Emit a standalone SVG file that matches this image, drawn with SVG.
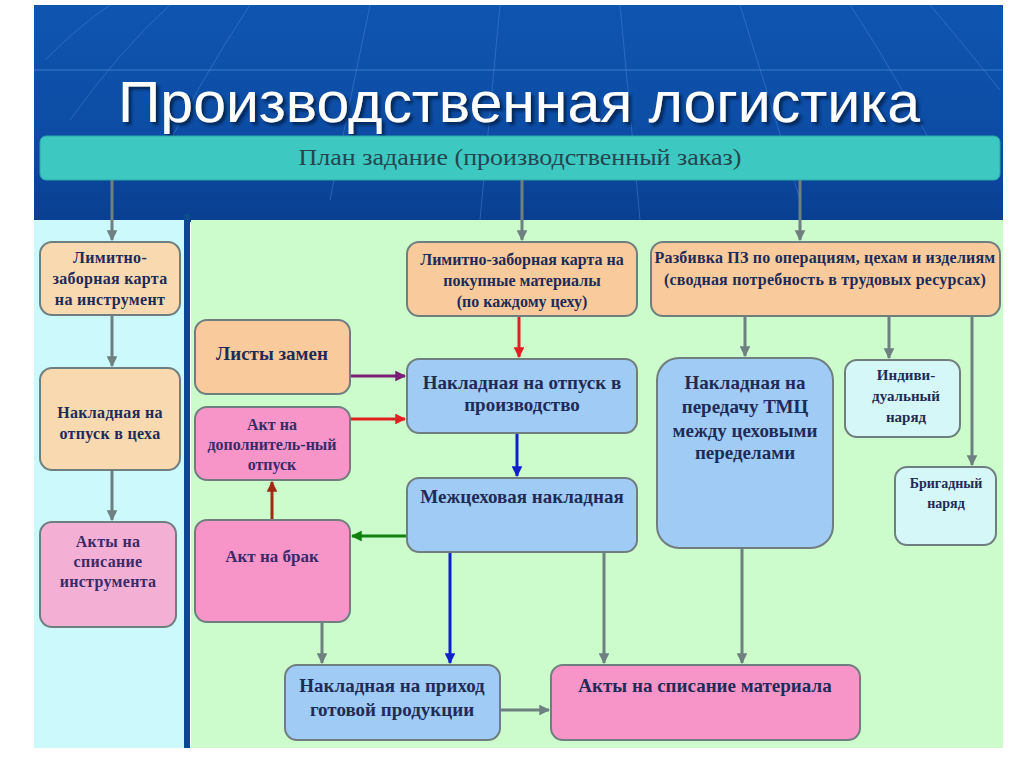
<svg xmlns="http://www.w3.org/2000/svg" width="1024" height="767" viewBox="0 0 1024 767">
<defs>
<linearGradient id="hdr" x1="0" y1="0" x2="0" y2="1">
<stop offset="0" stop-color="#0f55b0"/>
<stop offset="0.6" stop-color="#0c4ca4"/>
<stop offset="1" stop-color="#093f90"/>
</linearGradient>
<filter id="shadow" x="-5%" y="-20%" width="110%" height="150%">
<feDropShadow dx="3" dy="3" stdDeviation="1.5" flood-color="#061c48" flood-opacity="0.85"/>
</filter>
<marker id="aG" viewBox="0 0 10 10" refX="9" refY="5" markerWidth="3.6" markerHeight="3.6" orient="auto"><path d="M0,0L10,5L0,10z" fill="#6f8080"/></marker>
<marker id="aR" viewBox="0 0 10 10" refX="9" refY="5" markerWidth="3.6" markerHeight="3.6" orient="auto"><path d="M0,0L10,5L0,10z" fill="#e02020"/></marker>
<marker id="aP" viewBox="0 0 10 10" refX="9" refY="5" markerWidth="3.6" markerHeight="3.6" orient="auto"><path d="M0,0L10,5L0,10z" fill="#7a1e7a"/></marker>
<marker id="aB" viewBox="0 0 10 10" refX="9" refY="5" markerWidth="3.6" markerHeight="3.6" orient="auto"><path d="M0,0L10,5L0,10z" fill="#1020c8"/></marker>
<marker id="aGr" viewBox="0 0 10 10" refX="9" refY="5" markerWidth="3.6" markerHeight="3.6" orient="auto"><path d="M0,0L10,5L0,10z" fill="#108010"/></marker>
<marker id="aDR" viewBox="0 0 10 10" refX="9" refY="5" markerWidth="3.6" markerHeight="3.6" orient="auto"><path d="M0,0L10,5L0,10z" fill="#a02a10"/></marker>
</defs>
<style>
.box{stroke:#6f7f7f;stroke-width:2}
.peach{fill:#f8d9b0}
.orange{fill:#f9cb9c}
.blue{fill:#9fcbf4}
.pink{fill:#f795c8}
.lpink{fill:#f4b0d4}
.cyan{fill:#d6f7f7}
.t{font-family:"Liberation Serif","DejaVu Serif",serif;font-weight:bold;fill:#1e2b58;text-anchor:middle}
.tp{fill:#3a2a68}
.c{fill:none;stroke-width:3}
.g{stroke:#6f8080;marker-end:url(#aG)}
</style>
<rect width="1024" height="767" fill="#ffffff"/>
<g id="background">
<rect x="34" y="5" width="969" height="217" fill="url(#hdr)"/>
<line x1="34" y1="70" x2="1003" y2="70" stroke="#3d7fd0" stroke-width="1.5" opacity="0.6"/>
<g stroke="#4a8ad8" stroke-width="1" fill="none" opacity="0.45">
<path d="M45,60 Q80,25 110,5"/>
<path d="M70,120 Q120,50 170,5"/>
<path d="M150,180 Q200,80 250,5"/>
<path d="M330,200 Q350,100 370,5"/>
<path d="M480,220 Q490,110 500,5"/>
<path d="M640,220 Q630,110 620,5"/>
<path d="M800,200 Q770,100 740,5"/>
<path d="M950,180 Q900,80 850,5"/>
<path d="M1000,90 Q960,40 930,5"/>
</g>
<rect x="34" y="220" width="152" height="528" fill="#ccf9fc"/>
<rect x="191" y="220" width="812" height="528" fill="#ccfccc"/>
<rect x="184" y="214" width="6" height="534" fill="#0a4a8e"/>
</g>
<g id="title">
<text x="519" y="122" font-family="Liberation Sans, Arial, sans-serif" font-size="58" fill="#ffffff" text-anchor="middle" textLength="802" lengthAdjust="spacingAndGlyphs" filter="url(#shadow)">Производственная логистика</text>
</g>
<g id="plan">
<rect x="40" y="136" width="960" height="44" rx="6" fill="#3ec8c2" stroke="#2aa8a8" stroke-width="1"/>
<text x="520" y="165" font-family="Liberation Serif, serif" font-size="23" fill="#244650" text-anchor="middle" textLength="443" lengthAdjust="spacingAndGlyphs">План задание (производственный заказ)</text>
</g>
<g id="connectors">
<path class="c g" d="M112,180V240"/>
<path class="c g" d="M522,180V240"/>
<path class="c g" d="M800,180V240"/>
<path class="c g" d="M112,315V366"/>
<path class="c g" d="M112,470V520"/>
<path class="c" stroke="#e02020" marker-end="url(#aR)" d="M519,316V357"/>
<path class="c" stroke="#7a1e7a" marker-end="url(#aP)" d="M350,376H405"/>
<path class="c" stroke="#e02020" marker-end="url(#aR)" d="M350,419H405"/>
<path class="c" stroke="#1020c8" marker-end="url(#aB)" d="M517,433V476"/>
<path class="c" stroke="#108010" marker-end="url(#aGr)" d="M407,536H352"/>
<path class="c" stroke="#a02a10" marker-end="url(#aDR)" d="M272,520V482"/>
<path class="c" stroke="#1020c8" marker-end="url(#aB)" d="M450,552V663"/>
<path class="c g" d="M322,622V663"/>
<path class="c g" d="M604,552V663"/>
<path class="c g" d="M742,548V663"/>
<path class="c g" d="M500,710H549"/>
<path class="c g" d="M745,316V356"/>
<path class="c g" d="M889,316V358"/>
<path class="c g" d="M972,316V465"/>
</g>
<g id="n1"><rect class="box peach" x="40" y="242" width="140" height="73" rx="12"/>
<text class="t" font-size="16" x="110" letter-spacing="0.3"><tspan x="110" y="263">Лимитно-</tspan><tspan x="110" y="284">заборная карта</tspan><tspan x="110" y="305">на инструмент</tspan></text></g>
<g id="n2"><rect class="box peach" x="40" y="368" width="140" height="102" rx="12"/>
<text class="t" font-size="16" x="110" letter-spacing="0.3"><tspan x="110" y="418">Накладная на</tspan><tspan x="110" y="439">отпуск в цеха</tspan></text></g>
<g id="n3"><rect class="box lpink" x="40" y="522" width="136" height="105" rx="12"/>
<text class="t tp" font-size="16" x="108" letter-spacing="0.3"><tspan x="108" y="547">Акты на</tspan><tspan x="108" y="567">списание</tspan><tspan x="108" y="587">инструмента</tspan></text></g>
<g id="n4"><rect class="box orange" x="407" y="242" width="230" height="74" rx="12"/>
<text class="t" font-size="16" x="522"><tspan x="522" y="265">Лимитно-заборная карта на</tspan><tspan x="522" y="286">покупные материалы</tspan><tspan x="522" y="307">(по каждому цеху)</tspan></text></g>
<g id="n5"><rect class="box orange" x="195" y="320" width="155" height="74" rx="12"/>
<text class="t" font-size="19" x="272" y="360">Листы замен</text></g>
<g id="n6"><rect class="box blue" x="407" y="359" width="230" height="74" rx="12"/>
<text class="t" font-size="19" x="522"><tspan x="522" y="389">Накладная на отпуск в</tspan><tspan x="522" y="411">производство</tspan></text></g>
<g id="n7"><rect class="box pink" x="195" y="407" width="155" height="73" rx="12"/>
<text class="t tp" font-size="16" x="272"><tspan x="272" y="430">Акт на</tspan><tspan x="272" y="450">дополнитель-ный</tspan><tspan x="272" y="470">отпуск</tspan></text></g>
<g id="n8"><rect class="box blue" x="407" y="478" width="230" height="74" rx="12"/>
<text class="t" font-size="19" x="522" y="503">Межцеховая накладная</text></g>
<g id="n9"><rect class="box pink" x="195" y="520" width="155" height="102" rx="12"/>
<text class="t tp" font-size="17" x="272" y="562">Акт на брак</text></g>
<g id="n10"><rect class="box blue" x="285" y="665" width="215" height="75" rx="12"/>
<text class="t" font-size="19" x="392"><tspan x="392" y="692">Накладная на приход</tspan><tspan x="392" y="716">готовой продукции</tspan></text></g>
<g id="n11"><rect class="box pink" x="551" y="665" width="309" height="75" rx="12"/>
<text class="t" font-size="19" x="705" y="692">Акты на списание материала</text></g>
<g id="n12"><rect class="box orange" x="651" y="242" width="349" height="74" rx="12"/>
<text class="t" font-size="16" x="825" letter-spacing="0.2"><tspan x="825" y="263">Разбивка ПЗ по операциям, цехам и изделиям</tspan><tspan x="825" y="285">(сводная потребность в трудовых ресурсах)</tspan></text></g>
<g id="n13"><rect class="box blue" x="657" y="358" width="176" height="190" rx="22"/>
<text class="t" font-size="19" x="745"><tspan x="745" y="389">Накладная на</tspan><tspan x="745" y="413">передачу ТМЦ</tspan><tspan x="745" y="437">между цеховыми</tspan><tspan x="745" y="459">переделами</tspan></text></g>
<g id="n14"><rect class="box cyan" x="845" y="360" width="115" height="77" rx="12"/>
<text class="t" font-size="15" x="906"><tspan x="906" y="380">Индиви-</tspan><tspan x="906" y="401">дуальный</tspan><tspan x="906" y="422">наряд</tspan></text></g>
<g id="n15"><rect class="box cyan" x="895" y="467" width="101" height="78" rx="12"/>
<text class="t" font-size="14" x="946"><tspan x="946" y="488">Бригадный</tspan><tspan x="946" y="508">наряд</tspan></text></g>
</svg>
